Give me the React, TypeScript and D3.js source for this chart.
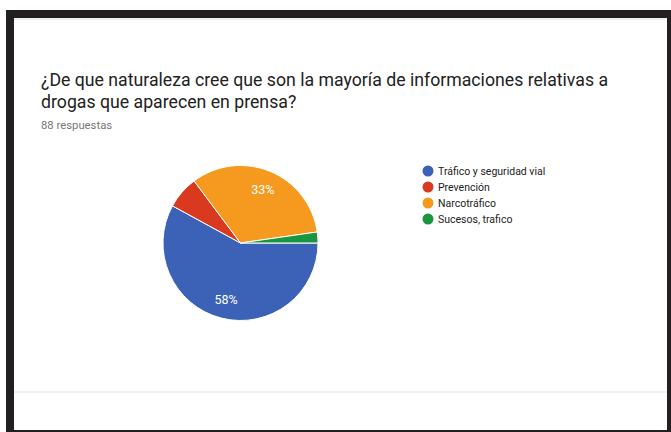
import React from "react";
import * as d3 from "d3";

const categories = ["Tráfico y seguridad vial", "Prevención", "Narcotráfico", "Sucesos, trafico"];
const counts = [51, 6, 29, 2];
const colors = ["#3b62b6", "#d8391f", "#f59a1e", "#1a9641"];
const titleLines = [
  "¿De que naturaleza cree que son la mayoría de informaciones relativas a",
  "drogas que aparecen en prensa?",
];
const subtitle = "88 respuestas";

export default function App() {
  const W = 671, H = 432;
  const cx = 240.5, cy = 243, r = 77.5;
  const total = d3.sum(counts);
  const pie = d3.pie<number>().sort(null).startAngle(Math.PI / 2).endAngle(Math.PI / 2 + 2 * Math.PI);
  const arcs = pie(counts);
  const arc = d3.arc<d3.PieArcDatum<number>>().innerRadius(0).outerRadius(r);
  const labelArc = d3.arc<d3.PieArcDatum<number>>().innerRadius(r * 0.75).outerRadius(r * 0.75);
  const font = "Roboto, Arial, sans-serif";
  const legendY = d3.scalePoint<string>().domain(categories).range([171, 219]);

  return (
    <div>
      <style>{`body{margin:0}`}</style>
      <svg width={W} height={H} style={{ display: "block" }}>
        <rect x={0} y={0} width={W} height={H} fill="#ffffff" />
        {/* frame */}
        <rect x={6} y={10} width={665} height={8} fill="#231f20" />
        <rect x={6} y={10} width={8} height={422} fill="#231f20" />
        <rect x={667} y={10} width={4} height={422} fill="#231f20" />
        <rect x={6} y={430} width={665} height={2} fill="#231f20" />
        <rect x={14} y={18} width={653} height={2} fill="#efefef" />
        <rect x={14} y={391} width={653} height={2} fill="#f1f1f1" />

        {titleLines.map((t, i) => (
          <text key={i} x={41} y={86 + i * 22} fontFamily={font} fontSize={17.7} fill="#212121">
            {t}
          </text>
        ))}
        <text x={41} y={129} fontFamily={font} fontSize={11.3} fill="#777777">
          {subtitle}
        </text>

        <g transform={`translate(${cx},${cy})`}>
          {arcs.map((a, i) => (
            <path key={i} d={arc(a) || ""} fill={colors[i]} stroke="#ffffff" strokeWidth={1} />
          ))}
          {arcs.map((a, i) => {
            const pct = a.data / total;
            if (pct < 0.1) return null;
            const [lx, ly] = labelArc.centroid(a);
            return (
              <text key={"l" + i} x={lx} y={ly} dy="0.35em" textAnchor="middle" fontFamily={font} fontSize={12.5} fill="#ffffff">
                {Math.round(pct * 100) + "%"}
              </text>
            );
          })}
        </g>

        {categories.map((c, i) => (
          <g key={c} transform={`translate(428,${legendY(c)})`}>
            <circle r={5.5} fill={colors[i]} />
            <text x={10} dy="0.35em" fontFamily={font} fontSize={10.5} fill="#222222">
              {c}
            </text>
          </g>
        ))}
      </svg>
    </div>
  );
}
